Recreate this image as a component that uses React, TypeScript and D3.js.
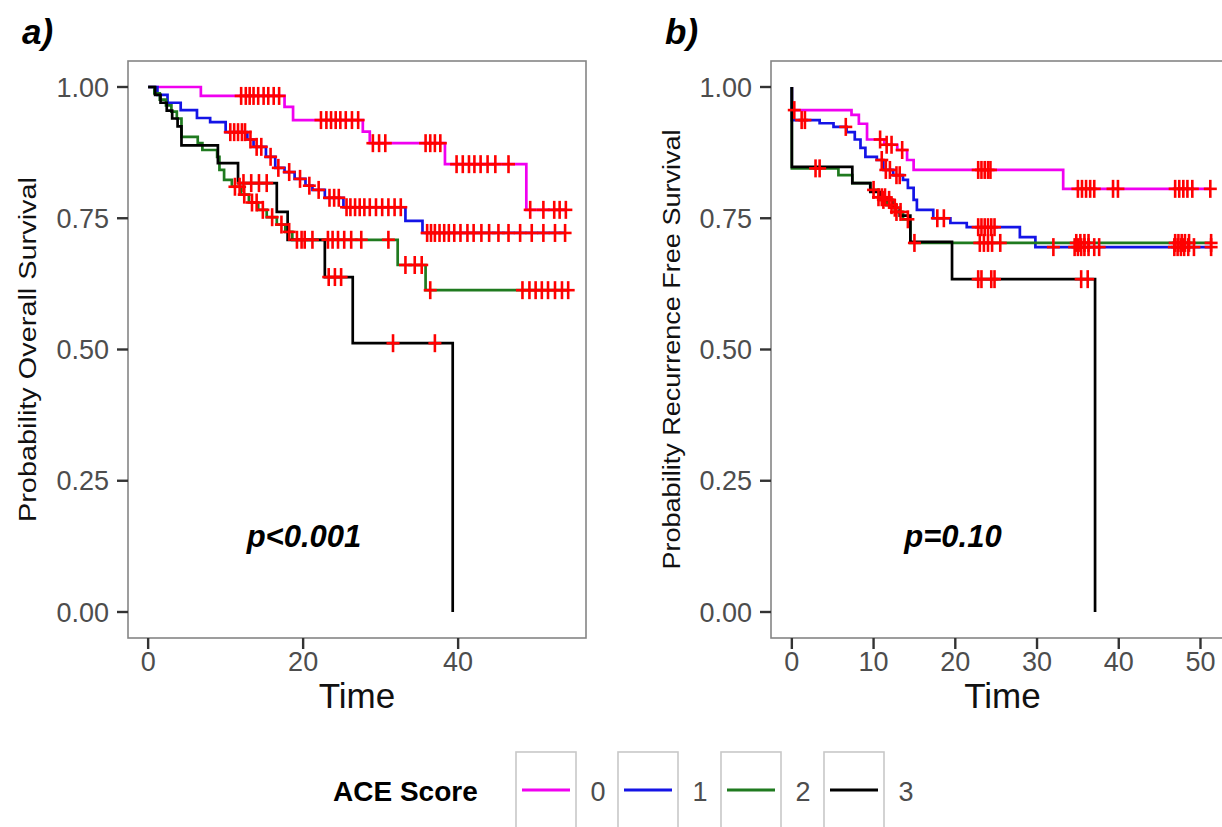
import React from "react";
import * as d3 from "d3";

type Step = [number, number];

// ACE score groups and their line colours
const groupLabels = ["0", "1", "2", "3"];
const groupColors = ["#f000f0", "#1414e6", "#1f7a1f", "#000000"];
const censorColor = "#ff0000";

const survivalTicks = [0, 0.25, 0.5, 0.75, 1];
const osTimeTicks = [0, 20, 40];
const rfsTimeTicks = [0, 10, 20, 30, 40, 50];

// a) Overall survival: [time, survival after the event]
const os0: Step[] = [[0, 1], [6.8, 0.983], [17.6, 0.962], [18.7, 0.937], [27.7, 0.915], [28.6, 0.893], [38.3, 0.853], [48.8, 0.766]];
const os1: Step[] = [[0, 1], [1.2, 0.985], [2.5, 0.97], [4.2, 0.956], [6.3, 0.941], [8.0, 0.933], [10.0, 0.914], [12.8, 0.9], [13.6, 0.886], [15.2, 0.867], [16.4, 0.846], [17.6, 0.838], [18.9, 0.825], [20.3, 0.812], [21.2, 0.804], [22.8, 0.789], [25.2, 0.771], [33.2, 0.745], [35.4, 0.722]];
const os2: Step[] = [[0, 1], [0.8, 0.988], [1.5, 0.976], [2.3, 0.965], [3.0, 0.953], [3.7, 0.94], [4.3, 0.905], [6.4, 0.893], [7.0, 0.88], [8.9, 0.867], [9.2, 0.842], [9.8, 0.823], [10.8, 0.81], [12.0, 0.795], [13.0, 0.78], [14.2, 0.766], [15.3, 0.752], [16.6, 0.738], [17.7, 0.724], [18.6, 0.709], [32.2, 0.661], [35.8, 0.613]];
const os3: Step[] = [[0, 1], [0.9, 0.985], [1.6, 0.97], [2.4, 0.955], [3.1, 0.94], [3.8, 0.925], [4.3, 0.889], [9.0, 0.855], [11.6, 0.817], [16.6, 0.762], [18.0, 0.709], [22.8, 0.638], [26.4, 0.512], [39.3, 0]];

// a) censoring times
const osCens0 = [12.0, 12.6, 13.1, 13.6, 14.2, 14.9, 15.5, 16.2, 16.9, 22.3, 23.0, 23.6, 24.2, 24.8, 25.5, 26.3, 27.1, 29.0, 29.8, 30.6, 35.8, 36.4, 37.0, 37.7, 39.8, 40.6, 41.4, 42.1, 42.9, 43.8, 44.8, 46.5, 49.3, 51.0, 52.4, 53.1, 53.9];
const osCens1 = [10.6, 11.1, 11.6, 12.1, 12.5, 13.2, 14.0, 14.6, 15.8, 16.8, 18.2, 19.6, 20.8, 22.0, 23.4, 24.0, 24.6, 25.6, 26.1, 26.7, 27.3, 27.9, 28.6, 29.4, 30.2, 31.0, 31.8, 32.6, 36.0, 36.5, 37.0, 37.6, 38.2, 38.8, 39.5, 40.3, 41.2, 42.0, 43.0, 44.0, 45.2, 46.5, 48.0, 49.5, 51.0, 52.5, 53.8];
const osCens2 = [11.2, 11.8, 12.4, 13.4, 14.0, 14.8, 16.0, 17.2, 18.2, 19.8, 21.2, 23.2, 23.8, 24.5, 25.3, 26.2, 27.5, 31.0, 33.2, 34.4, 35.3, 36.4, 48.3, 49.2, 50.0, 50.8, 51.6, 52.5, 53.4, 54.2];
const osCens3 = [12.3, 13.3, 14.3, 15.3, 19.2, 20.2, 23.3, 24.1, 24.9, 31.6, 37.0];

// b) Recurrence free survival: [time, survival after the event]
const rfs0: Step[] = [[0, 1], [0, 0.956], [7.3, 0.947], [8.2, 0.93], [9.2, 0.9], [11.3, 0.89], [12.9, 0.88], [14.1, 0.861], [14.9, 0.842], [33.2, 0.806]];
const rfs1: Step[] = [[0, 1], [0, 0.937], [3.4, 0.931], [5.1, 0.924], [6.7, 0.914], [7.7, 0.9], [8.4, 0.884], [9.0, 0.867], [10.4, 0.861], [11.2, 0.842], [12.4, 0.832], [13.6, 0.823], [14.2, 0.808], [14.9, 0.785], [15.3, 0.766], [17.3, 0.75], [19.4, 0.741], [21.4, 0.733], [27.9, 0.714], [29.8, 0.695]];
const rfs2: Step[] = [[0, 1], [0, 0.845], [5.7, 0.832], [7.4, 0.817], [9.6, 0.804], [10.6, 0.79], [11.6, 0.775], [12.6, 0.762], [13.6, 0.748], [14.5, 0.703]];
const rfs3: Step[] = [[0, 1], [0, 0.848], [7.4, 0.817], [9.6, 0.8], [10.8, 0.785], [12.3, 0.77], [13.2, 0.755], [14.5, 0.705], [19.6, 0.634], [37.1, 0]];

// b) censoring times
const rfsCens0 = [0.3, 10.8, 11.6, 12.2, 13.5, 22.8, 23.2, 23.6, 24.0, 24.3, 35.0, 35.5, 36.0, 36.5, 37.0, 39.3, 39.9, 46.9, 47.4, 47.9, 48.4, 49.0, 51.2];
const rfsCens1 = [1.2, 1.6, 6.6, 11.0, 11.5, 12.0, 12.8, 13.2, 17.8, 18.6, 22.8, 23.2, 23.6, 24.0, 24.4, 24.8, 32.0, 34.6, 35.0, 35.4, 35.8, 36.3, 37.0, 37.6, 46.8, 47.2, 47.6, 48.0, 48.5, 49.2, 51.3];
const rfsCens2 = [2.9, 3.4, 10.0, 10.6, 11.0, 11.4, 12.2, 12.8, 13.3, 14.2, 15.0, 23.0, 23.5, 24.0, 24.5, 25.5, 34.8, 35.3, 35.8, 36.3, 46.9, 47.3, 47.7, 48.1, 48.6, 51.3];
const rfsCens3 = [11.2, 11.9, 12.6, 22.8, 23.2, 24.4, 24.8, 35.4, 36.2];

const FONT = "'Liberation Sans', Arial, Helvetica, sans-serif";
const FRAME_TOP = 61;
const FRAME_BOTTOM = 638;

function survivalAt(steps: Step[], t: number): number {
  let s = steps[0][1];
  for (const [st, sv] of steps) {
    if (st <= t) s = sv;
    else break;
  }
  return s;
}

function stepPoints(steps: Step[], censors: number[]): [number, number][] {
  const pts: [number, number][] = [[steps[0][0], steps[0][1]]];
  for (let i = 1; i < steps.length; i++) {
    pts.push([steps[i][0], steps[i - 1][1]]);
    pts.push([steps[i][0], steps[i][1]]);
  }
  const last = steps[steps.length - 1];
  const end = Math.max(last[0], ...censors);
  if (last[1] > 0 && end > last[0]) pts.push([end, last[1]]);
  return pts;
}

interface PanelProps {
  tag: string;
  xDomain: [number, number];
  xRange: [number, number];
  timeTicks: number[];
  yTitle: string;
  yTitleX: number;
  yTitleLength: number;
  pText: string;
  pX: number;
  curves: Step[][];
  censors: number[][];
}

function Panel(p: PanelProps) {
  const x = d3.scaleLinear().domain(p.xDomain).range(p.xRange);
  const y = d3.scaleLinear().domain([0, 1]).range([612, 87]);
  const line = d3
    .line<[number, number]>()
    .x((d) => x(d[0]))
    .y((d) => y(d[1]));
  const [x0, x1] = p.xRange;
  const midX = (x0 + x1) / 2;
  const midY = (FRAME_TOP + FRAME_BOTTOM) / 2;
  return (
    <g>
      <text x={x0 - 106} y={44} fontFamily={FONT} fontSize={35} fontWeight="bold" fontStyle="italic" fill="#000">
        {p.tag}
      </text>
      <rect x={x0} y={FRAME_TOP} width={x1 - x0} height={FRAME_BOTTOM - FRAME_TOP} fill="#fff" stroke="#858585" strokeWidth={1.6} />
      {/* y axis */}
      {survivalTicks.map((v) => (
        <g key={"y" + v}>
          <line x1={x0 - 11} x2={x0} y1={y(v)} y2={y(v)} stroke="#333" strokeWidth={2.4} />
          <text x={x0 - 19} y={y(v)} dy="0.36em" textAnchor="end" fontFamily={FONT} fontSize={27} fill="#4d4d4d">
            {v.toFixed(2)}
          </text>
        </g>
      ))}
      {/* x axis */}
      {p.timeTicks.map((v) => (
        <g key={"x" + v}>
          <line x1={x(v)} x2={x(v)} y1={FRAME_BOTTOM} y2={FRAME_BOTTOM + 11} stroke="#333" strokeWidth={2.4} />
          <text x={x(v)} y={671} textAnchor="middle" fontFamily={FONT} fontSize={27} fill="#4d4d4d">
            {v}
          </text>
        </g>
      ))}
      <text x={midX} y={708} textAnchor="middle" fontFamily={FONT} fontSize={35} fill="#111">
        Time
      </text>
      <text
        transform={`translate(${p.yTitleX},${midY}) rotate(-90)`}
        textAnchor="middle"
        fontFamily={FONT}
        fontSize={23}
        fill="#111"
        textLength={p.yTitleLength}
        lengthAdjust="spacingAndGlyphs"
      >
        {p.yTitle}
      </text>
      {/* survival curves */}
      <g fill="none" strokeWidth={2.7}>
        {p.curves.map((c, i) => (
          <path key={"c" + i} d={line(stepPoints(c, p.censors[i])) || ""} stroke={groupColors[i]} />
        ))}
      </g>
      {/* censor marks */}
      <g stroke={censorColor} strokeWidth={2.6}>
        {p.curves.map((c, i) =>
          p.censors[i].map((t, j) => {
            const cx = x(t);
            const cy = y(survivalAt(c, t));
            return (
              <g key={`m${i}-${j}`}>
                <line x1={cx} x2={cx} y1={cy - 9} y2={cy + 9} />
                <line x1={cx - 6.5} x2={cx + 6.5} y1={cy} y2={cy} />
              </g>
            );
          })
        )}
      </g>
      <text x={p.pX} y={547} textAnchor="middle" fontFamily={FONT} fontSize={31} fontWeight="bold" fontStyle="italic" fill="#000">
        {p.pText}
      </text>
    </g>
  );
}

function Legend() {
  const boxX = [516, 618, 721, 824];
  return (
    <g>
      <text x={333} y={801} fontFamily={FONT} fontSize={28} fontWeight="bold" fill="#000">
        ACE Score
      </text>
      {groupLabels.map((g, i) => (
        <g key={g}>
          <rect x={boxX[i]} y={752} width={60} height={80} fill="#fff" stroke="#c8c8c8" strokeWidth={1.6} />
          <line x1={boxX[i] + 6} x2={boxX[i] + 54} y1={790} y2={790} stroke={groupColors[i]} strokeWidth={3} />
          <text x={boxX[i] + 82} y={801} textAnchor="middle" fontFamily={FONT} fontSize={27} fill="#4d4d4d">
            {g}
          </text>
        </g>
      ))}
    </g>
  );
}

export default function App() {
  return (
    <svg
      width={1222}
      height={827}
      viewBox="0 0 1222 827"
      style={{ position: "absolute", left: 0, top: 0, display: "block", background: "#fff" }}
    >
      <rect x={0} y={0} width={1222} height={827} fill="#fff" />
      <Panel
        tag="a)"
        xDomain={[-2.6, 56.5]}
        xRange={[128, 586]}
        timeTicks={osTimeTicks}
        yTitle="Probability Overall Survival"
        yTitleX={36}
        yTitleLength={345}
        pText="p<0.001"
        pX={304}
        curves={[os0, os1, os2, os3]}
        censors={[osCens0, osCens1, osCens2, osCens3]}
      />
      <Panel
        tag="b)"
        xDomain={[-2.55, 54.1]}
        xRange={[771, 1234]}
        timeTicks={rfsTimeTicks}
        yTitle="Probability Recurrence Free Survival"
        yTitleX={680}
        yTitleLength={440}
        pText="p=0.10"
        pX={953}
        curves={[rfs0, rfs1, rfs2, rfs3]}
        censors={[rfsCens0, rfsCens1, rfsCens2, rfsCens3]}
      />
      <Legend />
    </svg>
  );
}
